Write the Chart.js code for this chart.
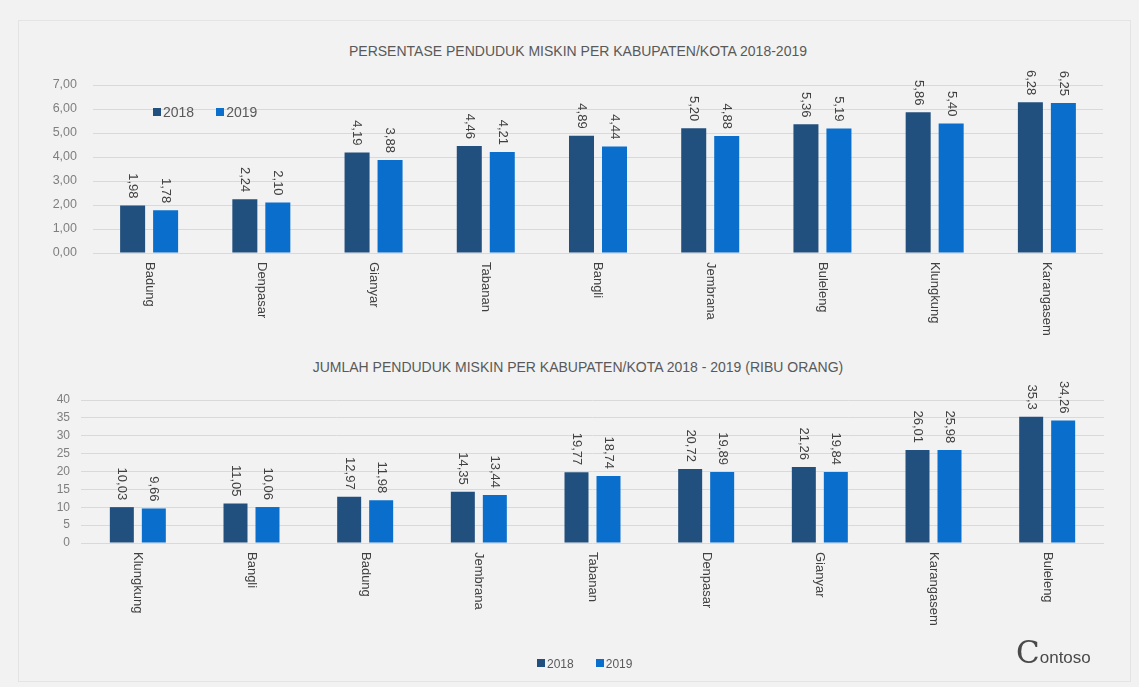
<!DOCTYPE html>
<html>
<head>
<meta charset="utf-8">
<title>Penduduk Miskin Bali 2018-2019</title>
<script src="https://cdn.jsdelivr.net/npm/chart.js@4.4.1/dist/chart.umd.min.js"></script>
<style>
  body { margin: 0; background: #f2f2f2; font-family: "Liberation Sans", Arial, sans-serif; }
  #wrap { position: relative; width: 1139px; height: 687px; overflow: hidden; background: #f2f2f2; }
  #frame { position: absolute; left: 18px; top: 20px; width: 1111px; height: 660px; border: 1px solid #e4e4e4; }
  canvas { position: absolute; left: 0; }
  #c1 { top: 0; }
  #c2 { top: 350px; }
  .title { position: absolute; left: 0; width: 1156px; text-align: center; font-size: 14px; color: #595959; }
  .legend { position: absolute; font-size: 14px; color: #595959; white-space: nowrap; }
  .legend span.item { margin-right: 22px; }
  .legend i { display: inline-block; width: 8px; height: 8px; margin-right: 2px; vertical-align: 1px; }
  #logo { position: absolute; left: 1016px; top: 634px; color: #4a4a4a; white-space: nowrap; }
  #logo b { font-size: 31px; font-weight: normal; font-family: "DejaVu Serif", serif; }
  #logo span { font-size: 17px; }
</style>
</head>
<body>
<div id="wrap">
  <div id="frame"></div>
  <div class="title" style="top:43px">PERSENTASE PENDUDUK MISKIN PER KABUPATEN/KOTA 2018-2019</div>
  <div class="title" style="top:359px">JUMLAH PENDUDUK MISKIN PER KABUPATEN/KOTA 2018 - 2019 (RIBU ORANG)</div>
  <canvas id="c1" width="1139" height="350"></canvas>
  <canvas id="c2" width="1139" height="337"></canvas>
  <div class="legend" id="leg1" style="left:153px; top:104px"></div>
  <div class="legend" id="leg2" style="left:537px; top:657px; font-size:12px"></div>
  <div id="logo"><b>C</b><span>ontoso</span></div>
</div>
<script>
const years = ["2018", "2019"];
const colors = ["#22507e", "#0a6fcc"];

// persentase penduduk miskin (%)
const pctCities = ["Badung", "Denpasar", "Gianyar", "Tabanan", "Bangli", "Jembrana", "Buleleng", "Klungkung", "Karangasem"];
const pct2018 = [1.98, 2.24, 4.19, 4.46, 4.89, 5.20, 5.36, 5.86, 6.28];
const pct2019 = [1.78, 2.10, 3.88, 4.21, 4.44, 4.88, 5.19, 5.40, 6.25];
const pctMax = 7;
const pctStep = 1;

// jumlah penduduk miskin (ribu orang)
const jmlCities = ["Klungkung", "Bangli", "Badung", "Jembrana", "Tabanan", "Denpasar", "Gianyar", "Karangasem", "Buleleng"];
const jml2018 = [10.03, 11.05, 12.97, 14.35, 19.77, 20.72, 21.26, 26.01, 35.3];
const jml2019 = [9.66, 10.06, 11.98, 13.44, 18.74, 19.89, 19.84, 25.98, 34.26];
const jmlMax = 40;
const jmlStep = 5;

const FONT = "\"Liberation Sans\", Arial, sans-serif";
const comma = v => String(v).replace(".", ",");

// value labels above bars, rotated to read top-to-bottom
const valueLabels = {
  id: "valueLabels",
  afterDatasetsDraw(chart, args, opts) {
    const ctx = chart.ctx;
    ctx.save();
    ctx.font = "13px " + FONT;
    ctx.fillStyle = "#404040";
    ctx.textAlign = "right";
    ctx.textBaseline = "middle";
    chart.data.datasets.forEach((ds, i) => {
      chart.getDatasetMeta(i).data.forEach((bar, j) => {
        ctx.save();
        ctx.translate(bar.x, bar.y - 7);
        ctx.rotate(Math.PI / 2);
        ctx.fillText(opts.fmt(ds.data[j]), 0, 0);
        ctx.restore();
      });
    });
    ctx.restore();
  }
};

// category names under the axis, same rotation
const catLabels = {
  id: "catLabels",
  afterDraw(chart) {
    const ctx = chart.ctx;
    const xs = chart.scales.x;
    ctx.save();
    ctx.font = "13px " + FONT;
    ctx.fillStyle = "#404040";
    ctx.textAlign = "left";
    ctx.textBaseline = "middle";
    chart.data.labels.forEach((lab, i) => {
      ctx.save();
      ctx.translate(xs.getPixelForTick(i), chart.chartArea.bottom + 9);
      ctx.rotate(Math.PI / 2);
      ctx.fillText(lab, 0, 0);
      ctx.restore();
    });
    ctx.restore();
  }
};

function makeChart(id, cities, a, b, max, step, box, tickFmt, valFmt, catPct, barPct) {
  return new Chart(document.getElementById(id), {
    type: "bar",
    data: {
      labels: cities,
      datasets: [
        { label: years[0], data: a, backgroundColor: colors[0], categoryPercentage: catPct, barPercentage: barPct },
        { label: years[1], data: b, backgroundColor: colors[1], categoryPercentage: catPct, barPercentage: barPct }
      ]
    },
    options: {
      responsive: false,
      animation: false,
      layout: { padding: { left: 0, top: box.top, right: box.right, bottom: 0 } },
      plugins: {
        legend: { display: false },
        tooltip: { enabled: false },
        valueLabels: { fmt: valFmt }
      },
      scales: {
        x: {
          ticks: { display: false },
          grid: { display: false },
          border: { display: false },
          afterFit: s => { s.height = box.xh; }
        },
        y: {
          min: 0,
          max: max,
          ticks: {
            stepSize: step, autoSkip: false, color: "#7f7f7f",
            font: { size: box.fs, family: FONT }, padding: box.tp, callback: tickFmt
          },
          grid: { color: "#d9d9d9", drawTicks: false },
          border: { display: false },
          afterFit: s => { s.width = box.left; }
        }
      }
    },
    plugins: [valueLabels, catLabels]
  });
}

makeChart("c1", pctCities, pct2018, pct2019, pctMax, pctStep,
  { top: 85, right: 1139 - 1103, left: 93, xh: 350 - 253, tp: 16, fs: 12.5 },
  v => v.toFixed(2).replace(".", ","), v => v.toFixed(2).replace(".", ","), 0.588, 0.758);

makeChart("c2", jmlCities, jml2018, jml2019, jmlMax, jmlStep,
  { top: 50, right: 1139 - 1104, left: 81, xh: 337 - 193, tp: 11, fs: 12 },
  v => String(v), comma, 0.563, 0.75);

// legends
function legendHtml() {
  return years.map((y, i) => `<span class="item"><i style="background:${colors[i]}"></i>${y}</span>`).join("");
}
document.getElementById("leg1").innerHTML = legendHtml();
document.getElementById("leg2").innerHTML = legendHtml();
</script>
</body>
</html>
